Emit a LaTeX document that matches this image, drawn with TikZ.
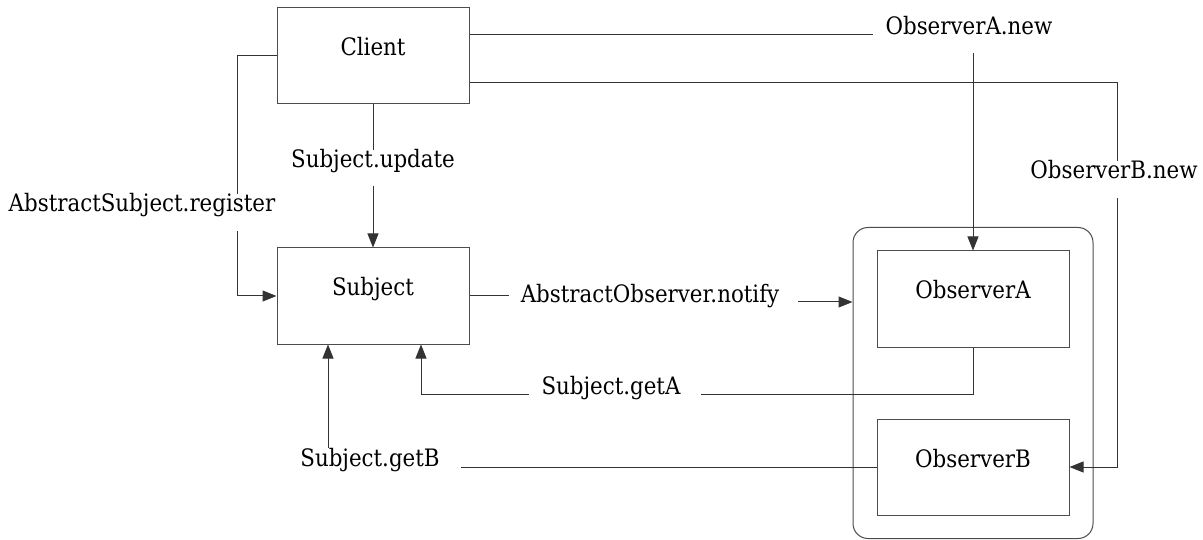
\documentclass[tikz,border=0pt]{standalone}
\usepackage{fontspec}
\setmainfont[FakeStretch=0.89]{DejaVu Serif}
\usetikzlibrary{arrows.meta,calc}
\begin{document}
\begin{tikzpicture}[x=1pt,y=-1pt,
  box/.style={draw=black!70, line width=1pt, minimum width=192pt, minimum height=96pt, inner sep=0pt},
  txt/.style={anchor=base, inner sep=0pt, font=\fontsize{24}{28}\selectfont},
  conn/.style={draw=black!80, line width=1pt},
  arr/.style={conn, -{Triangle[length=14pt,width=11pt]}}
]
\useasboundingbox (0,0) rectangle (1203,540);

% boxes
\node[box] (client) at (373,56) {};
\node[box] (subject) at (373,296) {};
\node[box, rounded corners=15pt, minimum width=240pt, minimum height=311pt] (group) at (973,383) {};
\node[box] (obsA) at (973,299) {};
\node[box] (obsB) at (973,467) {};

% box captions
\node[txt] (clientT) at (client.center) {Client};
\node[txt] (subjectT) at (subject.center) {Subject};
\node[txt] (obsAT) at (obsA.center) {ObserverA};
\node[txt] (obsBT) at (obsB.center) {ObserverB};

% connector labels
\node[txt] (lNewA) at (969,35) {ObserverA.new};
\node[txt] (lNewB) at (1114,179) {ObserverB.new};
\node[txt] (lUpd) at (373,168) {Subject.update};
\node[txt] (lReg) at (142,212) {AbstractSubject.register};
\node[txt] (lNot) at (650,302) {AbstractObserver.notify};
\node[txt] (lGetA) at (611,394) {Subject.getA};
\node[txt] (lGetB) at (370,466) {Subject.getB};

% helper points
\coordinate (bTop) at (1117,83);
\coordinate (rX) at (237,56);
\coordinate (gaX) at (421,0);
\coordinate (gbX) at (328,0);
\coordinate (aLow) at ($(lNewA.base -| obsA.north)+(0,18)$);
\coordinate (bLow) at ($(lNewB.base -| bTop)+(0,19)$);
\coordinate (uLow) at ($(lUpd.base -| client.south)+(0,18)$);
\coordinate (rLow) at ($(lReg.base -| rX)+(0,19)$);
\coordinate (nL) at ($(lNot.base west)+(-12,0)$);
\coordinate (nR) at ($(lNot.base east)+(19,0)$);
\coordinate (gaL) at ($(lGetA.base west)+(-12,0)$);
\coordinate (gaR) at ($(lGetA.base east)+(20,0)$);
\coordinate (gbR) at ($(lGetB.base east)+(21,0)$);

% Client -> ObserverA
\draw[conn] (client.east |- lNewA.base) -- ([xshift=-12pt]lNewA.base west);
\draw[arr] (aLow) -- (obsA.north);

% Client -> ObserverB
\draw[conn] (client.east |- bTop) -- (bTop) -- (bTop |- lNewB.north);
\draw[arr] (bLow) -- (bLow |- obsB.east) -- (obsB.east);

% Client -> Subject (update)
\draw[conn] (client.south) -- (client.south |- lUpd.north);
\draw[arr] (uLow) -- (subject.north);

% Client -> Subject (register)
\draw[conn] (client.west) -- (rX) -- (rX |- lReg.north);
\draw[arr] (rLow) -- (rX |- subject.west) -- (subject.west);

% Subject -> observers (notify)
\draw[conn] (subject.east) -- (nL |- subject.east);
\draw[arr] (nR) -- (nR -| group.west);

% ObserverA -> Subject (getA)
\draw[conn] (obsA.south) -- (obsA.south |- gaR) -- (gaR);
\draw[arr] (gaL) -- (gaL -| gaX) -- (gaX |- subject.south);

% ObserverB -> Subject (getB)
\draw[conn] (obsB.west) -- (gbR |- obsB.west);
\draw[arr] (gbX |- lGetB.north) -- (gbX |- subject.south);
\end{tikzpicture}
\end{document}
